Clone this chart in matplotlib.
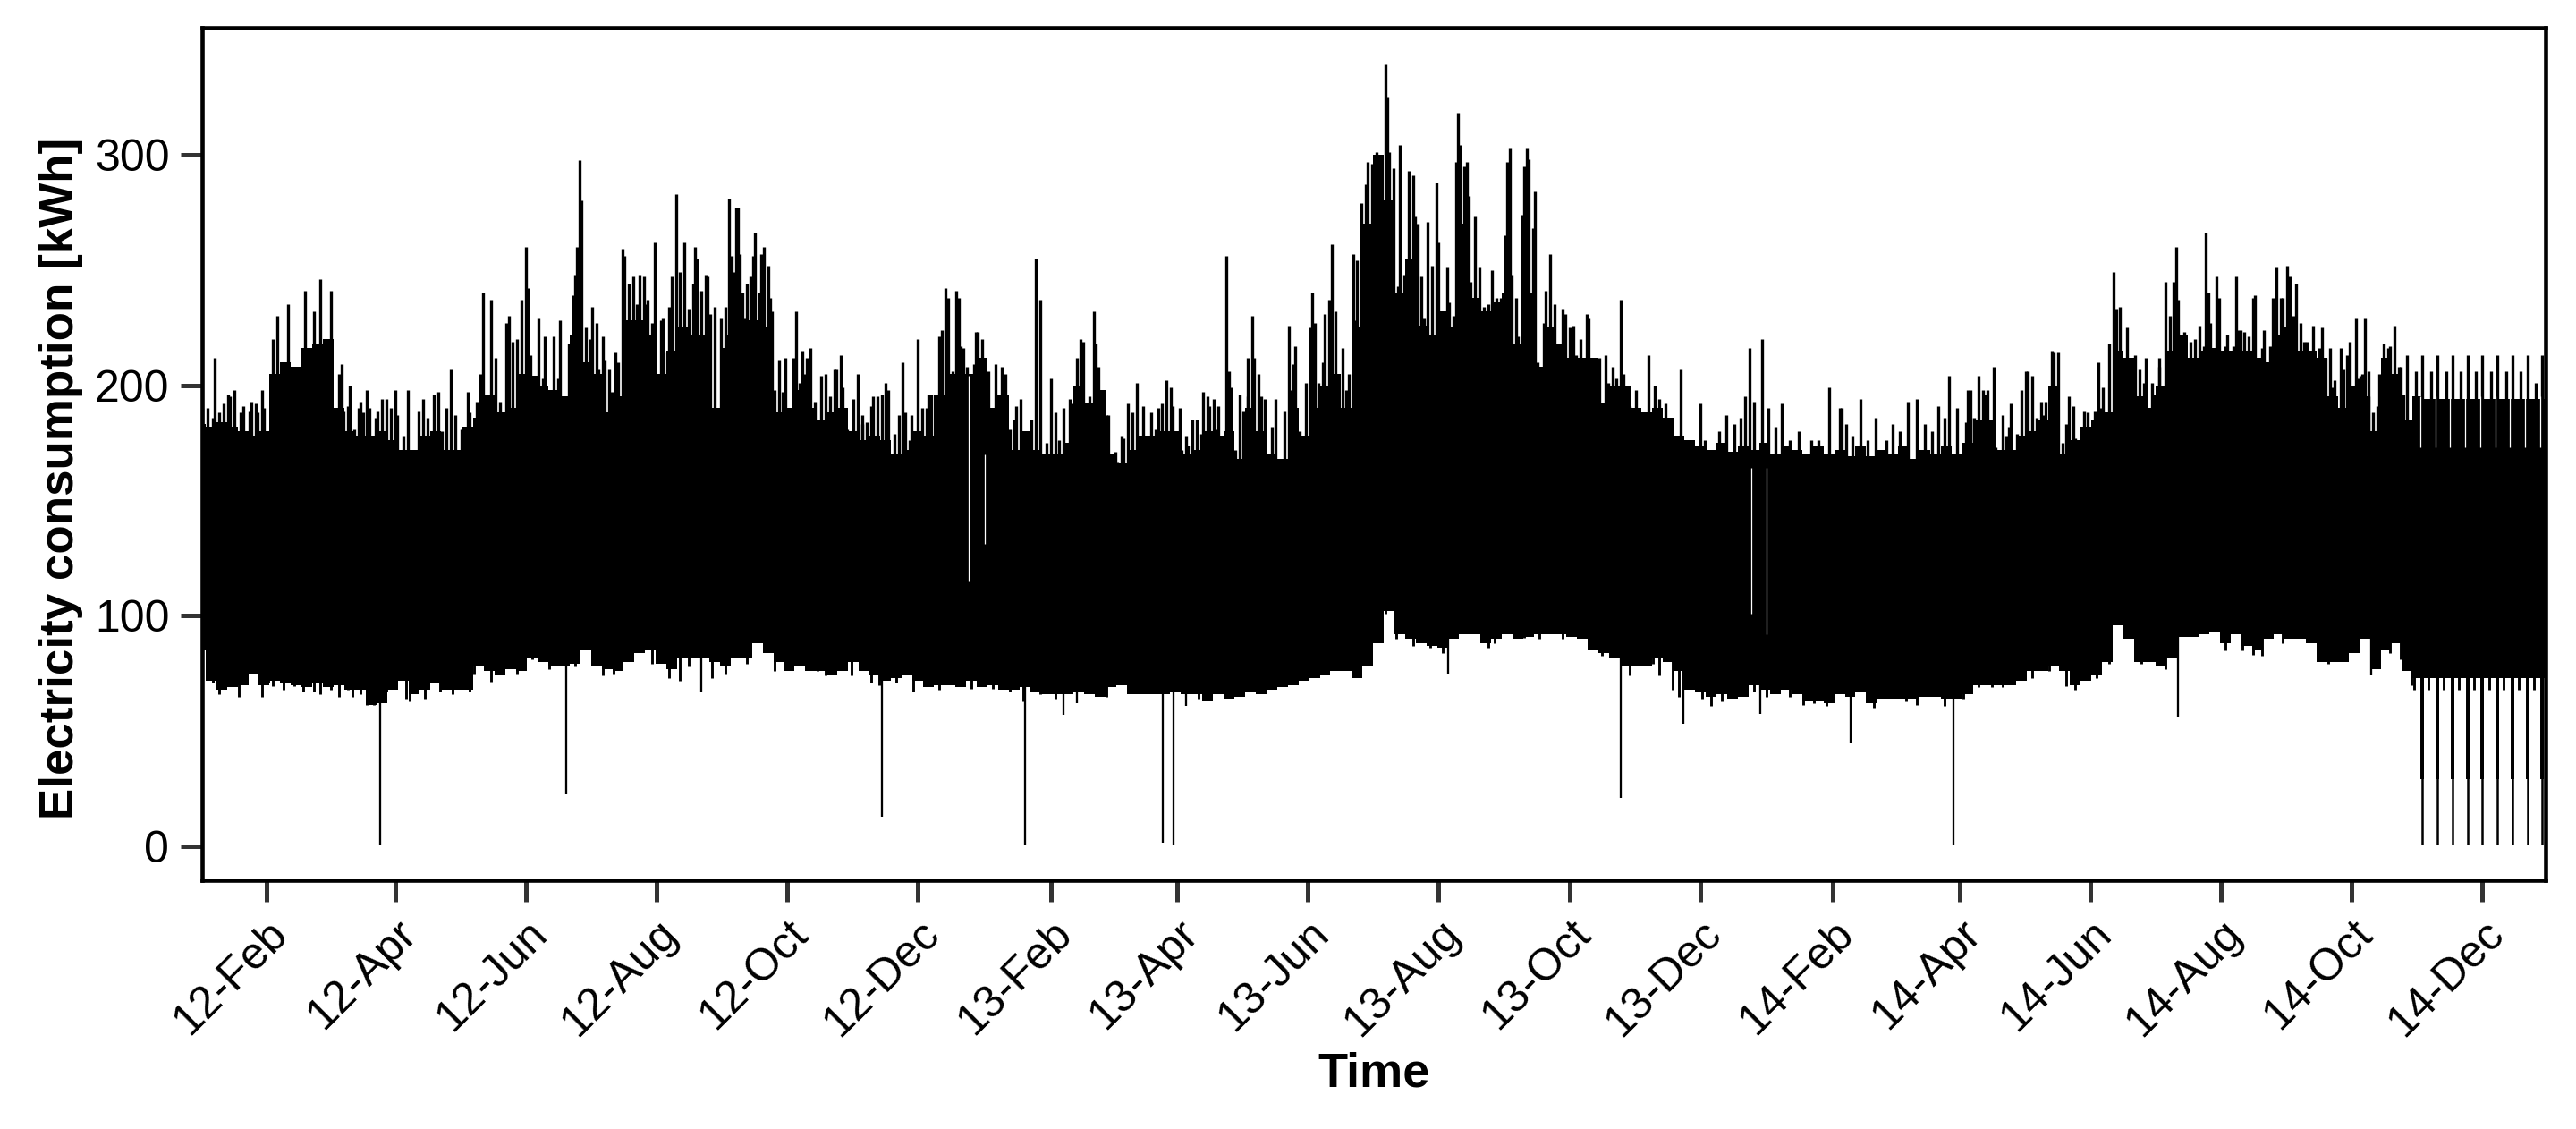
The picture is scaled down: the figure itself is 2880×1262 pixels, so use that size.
#!/usr/bin/env python3
import matplotlib
matplotlib.use("Agg")
import matplotlib.dates as mdates
import matplotlib.pyplot as plt
import numpy as np

start_day = np.datetime64("2012-01-01")
last_day = np.datetime64("2014-12-30T12")
first_shown = np.datetime64("2012-01-02")

# envelope of the black band, one reading every 5 days
top_2012 = [183, 182, 184, 182, 180, 178, 180, 205, 210, 208, 216, 218, 220, 190, 180, 178, 178, 180, 176,
            172, 172, 178, 180, 172, 172, 182, 186, 196, 188, 190, 205, 204, 200, 198, 195, 222, 210, 205,
            188, 195, 228, 228, 222, 205, 215, 225, 222, 222, 190, 216, 224, 228, 228, 225, 188]
top_2013a = [190, 198, 190, 185, 188, 190, 180, 176, 178, 176, 170, 172, 180, 178, 196, 205, 205, 205, 212,
             190, 196, 172, 180, 172, 170, 170, 175, 200, 192, 198, 170, 166, 172, 178, 178, 180, 180, 170,
             172, 180, 178, 180, 168, 190, 180, 170, 168, 190, 178, 190, 200, 205, 190, 225, 270]
top_2013b = [300, 280, 240, 255, 226, 222, 232, 225, 270, 238, 232, 236, 240, 218, 240, 208, 225, 218, 212,
             212, 212, 192, 200, 200, 190, 188, 190, 186, 178, 176, 174, 172, 175, 171, 174, 172, 175, 170,
             174, 172, 170, 174, 170, 172, 169, 174, 169, 172, 170, 174, 168, 172, 170, 174, 170]
top_2014 = [175, 185, 185, 172, 172, 178, 180, 185, 200, 170, 176, 182, 185, 188, 215, 212, 195, 190, 200,
            215, 222, 212, 215, 216, 215, 215, 215, 212, 210, 222, 225, 215, 215, 212, 195, 190, 200, 195,
            180, 212, 205, 185, 195, 194, 194, 194, 194, 194, 194, 194, 194, 194, 194, 194, 194]

low_2012 = [85, 72, 68, 69, 70, 75, 70, 72, 71, 70, 69, 71, 69, 70, 68, 68, 61.5, 62, 68, 72, 66, 68, 71, 68,
            68, 68, 78, 76, 74, 77, 76, 82, 80, 78, 78, 79, 85, 78, 77, 76, 80, 84, 85, 79, 77, 82, 82, 82,
            80, 78, 82, 82, 88, 84, 80]
low_2013a = [76, 78, 76, 76, 74, 76, 80, 76, 74, 72, 73, 74, 72, 69, 70, 70, 69, 72, 69, 70, 68, 68, 69, 67,
             66, 66, 66, 67, 66, 65, 69, 70, 66, 66, 66, 66, 67, 66, 66, 63, 66, 64, 65, 67, 66, 68, 69, 70,
             72, 73, 74, 76, 76, 73, 78]
low_2013b = [88, 102, 92, 90, 88, 87, 86, 90, 92, 92, 88, 90, 92, 90, 91, 92, 92, 92, 91, 90, 85, 84, 82, 78,
             78, 78, 82, 80, 76, 68, 67, 65, 66, 64, 65, 70, 68, 66, 68, 66, 63, 63, 62, 66, 65, 67, 62, 64,
             64, 64, 64, 65, 65, 64, 64]
low_2014 = [66, 70, 70, 70, 70, 72, 76, 76, 78, 76, 70, 72, 74, 80, 96, 90, 80, 80, 78, 82, 91, 91, 92, 93,
            88, 92, 87, 85, 90, 92, 90, 90, 88, 80, 80, 80, 84, 90, 77, 85, 88, 76, 73, 73, 73, 73, 73, 73,
            73, 73, 73, 73, 73, 73, 73]

# thin peaks above the band (day, kWh)
peaks_2012 = [(7, 212), (13, 196), (16, 198), (24, 193), (26, 192), (29, 198), (34, 220), (36, 230), (41, 235),
              (49, 241), (53, 232), (56, 246), (61, 241), (66, 209), (70, 200), (75, 193), (78, 198), (85, 194),
              (87, 194), (91, 198), (97, 198), (104, 194), (109, 196), (111, 197), (117, 207), (125, 197),
              (132, 240), (136, 237), (138, 212), (143, 227), (144, 230), (146, 219), (148, 220), (150, 237),
              (152, 260), (153, 242), (158, 229), (161, 221), (165, 221), (168, 228), (174, 239), (175, 248),
              (176, 260), (177, 297.5), (178, 280), (183, 234), (185, 227), (188, 221), (189, 211), (191, 207),
              (194, 214), (197, 259), (198, 256), (202, 247), (205, 248), (207, 247), (209, 237), (212, 262),
              (215, 228), (216, 229), (219, 234), (222, 283), (224, 249), (226, 262), (231, 260), (232, 255),
              (234, 241), (236, 248), (237, 247), (240, 234), (245, 234), (247, 281), (248, 256), (250, 277),
              (251, 277), (252, 257), (253, 240), (255, 244), (258, 256), (259, 266), (262, 257), (263, 260),
              (265, 252), (266, 238), (270, 211), (273, 212)]
peaks_2013a = [(278, 232), (281, 215), (283, 212), (285, 216), (287, 193), (290, 204), (292, 205), (296, 207),
               (297, 207), (299, 213), (300, 199), (305, 194), (307, 205), (309, 187), (311, 184), (313, 191),
               (314, 195), (316, 195), (320, 201), (321, 198), (328, 210), (329, 188), (332, 187), (335, 220),
               (337, 190), (339, 190), (341, 196), (348, 242), (349, 238), (353, 241), (354, 238), (356, 216),
               (358, 208), (362, 223), (365, 220), (371, 209), (374, 208), (376, 205), (380, 185), (383, 194),
               (390, 255), (392, 237), (397, 203), (399, 188), (406, 194), (409, 212), (411, 220), (412, 219),
               (417, 232), (418, 218), (419, 208), (424, 187), (427, 171), (430, 178), (433, 192), (437, 201),
               (440, 191), (444, 188), (447, 190), (449, 192), (451, 202), (453, 199), (454, 191), (457, 190),
               (460, 178), (463, 185), (465, 185), (468, 197), (470, 195), (473, 194), (475, 191), (479, 256),
               (480, 206), (481, 199), (485, 196), (489, 212), (491, 230), (492, 212), (494, 205), (497, 194),
               (502, 194), (508, 226), (510, 209), (511, 217), (518, 225), (519, 240), (520, 227), (522, 201),
               (525, 231), (527, 237), (528, 261), (530, 232), (533, 216), (535, 198), (538, 257), (539, 228),
               (542, 279), (544, 287), (545, 297), (547, 296), (549, 301)]
peaks_2013b = [(553, 339), (554, 325), (555, 301), (557, 294), (559, 243), (560, 304), (564, 293), (566, 291),
               (567, 273), (568, 270), (570, 247), (573, 271), (575, 252), (577, 288), (578, 262), (582, 251),
               (583, 236), (586, 297), (587, 318), (588, 304), (590, 295), (591, 297), (592, 282), (595, 273),
               (597, 251), (603, 250), (605, 238), (609, 265), (610, 297), (611, 303), (612, 248), (614, 238),
               (617, 274), (618, 295), (619, 303), (620, 298), (622, 268), (623, 284), (628, 241), (630, 257),
               (632, 235), (636, 233), (637, 231), (639, 225), (641, 226), (644, 220), (647, 231), (648, 229),
               (653, 212), (656, 213), (659, 208), (663, 237), (664, 205), (666, 199), (670, 198), (676, 213),
               (679, 200), (681, 194), (684, 192), (691, 207), (700, 192), (702, 176), (705, 172), (709, 180),
               (712, 187), (716, 183), (719, 186), (721, 195), (723, 216), (725, 193), (729, 220), (732, 190),
               (735, 182), (738, 192), (742, 176), (746, 180), (752, 176), (755, 176), (760, 199), (765, 190),
               (766, 190), (768, 183), (771, 178), (775, 194), (778, 176), (782, 186), (787, 176), (790, 183),
               (793, 180), (797, 193), (801, 194), (805, 183), (808, 180), (811, 191), (814, 186), (816, 204),
               (820, 190)]
peaks_2014 = [(824, 184), (825, 198), (826, 198), (830, 204), (832, 198), (833, 196), (834, 198), (837, 208),
              (841, 187), (845, 192), (850, 198), (852, 206), (853, 206), (855, 204), (859, 193), (861, 193),
              (864, 215), (865, 214), (867, 214), (872, 195), (874, 191), (879, 189), (881, 188), (884, 189),
              (886, 210), (888, 199), (893, 249), (894, 233), (896, 234), (899, 225), (901, 212), (903, 213),
              (905, 207), (908, 212), (911, 201), (914, 212), (917, 245), (921, 245), (922, 260), (923, 237),
              (926, 223), (929, 219), (933, 226), (936, 266), (937, 240), (938, 227), (941, 247), (942, 238),
              (945, 217), (946, 222), (950, 247), (951, 224), (952, 224), (954, 223), (958, 238), (959, 239),
              (962, 216), (963, 224), (966, 217), (969, 251), (972, 238), (974, 252), (975, 247), (978, 244),
              (980, 227), (983, 219), (986, 226), (990, 225), (992, 212), (994, 216), (996, 202), (999, 216),
              (1000, 207), (1003, 219), (1006, 229), (1007, 203), (1010, 229), (1012, 206), (1014, 188),
              (1019, 218), (1021, 216), (1024, 226), (1027, 208)]
# lower shoulders between the peaks
shoulders_2012 = [(1, 190), (3.5, 190), (6, 186), (9, 188), (11, 192), (14, 195), (19, 188), (20, 191), (23, 189),
                  (27, 188), (30, 190), (65, 205), (67, 189), (69, 191), (72, 181), (74, 190), (76, 188), (79, 190),
                  (82, 186), (83, 189), (89, 190), (92, 187), (95, 178), (102, 189), (106, 186), (113, 180), (115, 190),
                  (119, 187), (122, 181), (126, 188), (129, 193), (131, 205), (134, 196), (140, 193), (154, 213),
                  (156, 203), (160, 203), (162, 198), (167, 203), (172, 218), (180, 225), (182, 220), (186, 207),
                  (192, 197), (195, 210), (200, 244), (204, 235), (208, 235), (211, 227), (218, 214), (220, 247),
                  (228, 233), (230, 244), (238, 231), (243, 229), (246, 222), (249, 249), (254, 229), (257, 247),
                  (261, 240), (267, 232), (268, 198), (272, 197)]
shoulders_2013a = [(277, 212), (280, 201), (282, 205), (288, 175), (294, 195), (302, 181), (309, 183), (318, 196),
                   (324, 179), (326, 187), (331, 176), (340, 196), (345, 221), (346, 224), (351, 206), (355, 217),
                   (361, 209), (363, 223), (368, 206), (372, 196), (378, 181), (381, 191), (387, 175), (388, 185),
                   (395, 175), (401, 176), (403, 190), (407, 192), (415, 195), (421, 195), (423, 187), (428, 167),
                   (431, 177), (435, 188), (442, 178), (446, 181), (458, 172), (461, 174), (467, 179), (471, 191),
                   (474, 181), (483, 172), (487, 189), (489, 195), (495, 195), (500, 182), (506, 189), (509, 198),
                   (513, 180), (516, 201), (523, 197), (524, 210), (531, 202), (536, 205), (540, 254)]
shoulders_2013b = [(562, 248), (571, 229), (580, 232), (585, 230), (593, 245), (599, 234), (601, 235), (607, 238),
                   (615, 221), (624, 210), (627, 227), (633, 214), (634, 217), (642, 213), (651, 196), (657, 201),
                   (661, 203), (667, 191)]
shoulders_2014 = [(823, 174), (826, 186), (828, 186), (838, 173), (843, 178), (844, 182), (848, 179), (857, 186),
                  (860, 187), (869, 175), (871, 183), (875, 177), (878, 182), (883, 182), (887, 190), (890, 185),
                  (891, 218), (900, 209), (903, 193), (907, 201), (912, 196), (914, 208), (919, 230), (928, 204),
                  (931, 220), (935, 217), (939, 216), (943, 215), (949, 217), (956, 221), (961, 207), (967, 238),
                  (971, 238), (977, 230), (982, 219), (988, 203), (989, 216), (995, 199), (1002, 213), (1008, 204),
                  (1009, 205), (1012, 195), (1016, 191), (1017, 205), (1022, 217), (1026, 208), (1028, 196)]
# the regular tops of the last weeks
week_peak_days = [1030, 1037, 1044, 1051, 1058, 1065, 1072, 1079, 1086, 1093]
week_peak_vals = [213, 213, 213, 213, 213, 213, 213, 213, 213, 213]
week_side_days = [1034, 1041, 1048, 1055, 1062, 1069, 1076, 1083, 1090]
week_side_vals = [206, 206, 206, 206, 206, 206, 206, 206, 201]

# thin drops below the band (day, kWh)
drops = [(84, 0.6), (171, 23), (234, 67), (318, 13), (385, 0.6), (403, 57), (409, 62), (449.4, 1.4), (454.3, 0.6),
         (460, 61), (582.4, 75), (663, 21), (692, 53), (728, 57.5), (770, 45), (818, 0.6), (923, 56), (1013, 74)]

# short teeth on the lower edge of the band (day, kWh)
teeth_2012 = [(6, 71), (9, 66), (14, 69.5), (18, 65), (20, 72), (29, 65), (32, 71), (34, 69.5), (39, 68), (44, 69.5),
              (48, 67), (53, 67), (56, 66), (61, 68), (65, 65), (69, 68), (71, 65), (75, 66), (78, 61.5), (81, 61.5),
              (87, 67), (91, 69.5), (96, 64), (98, 63), (105, 64), (112, 67), (118, 66), (126, 67), (128, 75),
              (136, 71.5), (141, 76), (148, 75), (155, 81), (163, 77), (175, 78), (188, 74), (193, 75), (200, 82),
              (211, 79), (219, 73), (224, 72), (228, 78), (239, 73), (245, 75), (255, 79), (268, 76)]
teeth_2013a = [(279, 79), (288, 76), (292, 74), (298, 80), (304, 74), (313, 71), (317, 70), (325, 71), (333, 67),
               (340, 69.5), (345, 68), (360, 68.5), (370, 68.5), (378, 67), (384, 63), (392, 66), (399, 64), (423, 65),
               (435, 67), (443, 67), (466, 64), (470, 65), (481, 67), (487, 69.5), (492, 73), (502, 74), (524, 75),
               (538, 75)]
teeth_2013b = [(553, 101), (558, 90), (566, 87), (574, 86), (580, 84), (601, 86), (604, 88), (618, 90.5), (625, 90),
               (636, 90), (642, 93), (648, 90), (654, 82.5), (660, 82), (667, 74), (678, 79), (681, 74), (687, 68),
               (690, 65), (701, 64), (705, 61), (710, 63), (725, 67), (731, 65), (742, 65), (748, 61.5), (753, 62),
               (759, 61), (781, 60), (796, 63), (801, 61.5), (814, 61)]
teeth_2014 = [(823, 64), (830, 69), (836, 69), (841, 69), (848, 73), (855, 73), (863, 76), (871, 69.5), (875, 68),
              (885, 73), (891, 79), (903, 80.5), (906, 79), (912, 81), (917, 77), (945, 85), (953, 85), (958, 83),
              (962, 82.5), (972, 88), (993, 79), (999, 81), (1022, 84), (1027, 81), (1032, 70), (1033, 68), (1040, 68),
              (1047, 68), (1054, 68), (1061, 68), (1068, 68), (1075, 68), (1082, 68), (1089, 68)]

# weekly shutdowns at the end of 2014
shutdown_days = [1037, 1044, 1051, 1058, 1065, 1072, 1079, 1086, 1093]
shutdown_floor = [29, 29, 29, 29, 29, 29, 29, 29, 29]
shutdown_zero = [1, 1, 1, 1, 1, 1, 1, 1, 1]

# pale slits inside the band
slit_days = [358.7, 366, 724, 731, 1036, 1043, 1050, 1057, 1064, 1071, 1078, 1085, 1092]
slit_low = [115, 131, 101, 92, 173, 173, 173, 173, 173, 173, 173, 173, 173]
slit_high = [204, 170, 164, 164, 195, 195, 195, 195, 195, 195, 195, 195, 195]

tick_months = [2, 4, 6, 8, 10, 12]
y_ticks = [0, 100, 200, 300]


def to_dates(days):
    # days may be fractional, so go through hours
    return start_day + np.round(np.asarray(days, dtype=float) * 24).astype("timedelta64[h]")


plt.rcParams["font.family"] = ["Liberation Sans", "DejaVu Sans"]

fig = plt.figure(figsize=(9.6, 1262 / 300), dpi=300)
ax = fig.add_axes([226 / 2880, 1 - 984 / 1262, (2846 - 226) / 2880, (984 - 31) / 1262])

top_vals = top_2012 + top_2013a + top_2013b + top_2014
low_vals = low_2012 + low_2013a + low_2013b + low_2014
band_days = np.arange(len(top_vals)) * 5
ax.fill_between(to_dates(band_days), low_vals, top_vals, step="mid", color="black", lw=0)

peaks = (peaks_2012 + peaks_2013a + peaks_2013b + peaks_2014
         + shoulders_2012 + shoulders_2013a + shoulders_2013b + shoulders_2014)
peak_days = [p[0] for p in peaks] + week_peak_days + week_side_days
peak_vals = [p[1] for p in peaks] + week_peak_vals + week_side_vals
ax.vlines(to_dates(peak_days), 120, peak_vals, color="black", lw=0.8)

teeth = teeth_2012 + teeth_2013a + teeth_2013b + teeth_2014
ax.vlines(to_dates([t[0] for t in teeth]), [t[1] for t in teeth], 120, color="black", lw=0.7)
ax.vlines(to_dates([d[0] for d in drops]), [d[1] for d in drops], 120, color="black", lw=0.55)

ax.vlines(to_dates(shutdown_days), shutdown_floor, 120, color="black", lw=0.95)
ax.vlines(to_dates(shutdown_days), shutdown_zero, 120, color="black", lw=0.6)

ax.vlines(to_dates(slit_days), slit_low, slit_high, color="white", lw=0.3)

ax.set_xlim(first_shown, last_day)
ax.set_ylim(-14.7, 355)
ax.set_yticks(y_ticks)
ax.xaxis.set_major_locator(mdates.MonthLocator(bymonth=tick_months))
ax.xaxis.set_major_formatter(mdates.DateFormatter("%y-%b"))

ax.tick_params(axis="both", length=5.8, width=1.2, color="#333333", labelsize=12, pad=3)
plt.setp(ax.get_xticklabels(), rotation=45, ha="right", rotation_mode="anchor")
for s in ax.spines.values():
    s.set_linewidth(1.1)

ax.set_xlabel("Time", fontsize=13, fontweight="bold", labelpad=2)
ax.set_ylabel("Electricity consumption [kWh]", fontsize=12.7, fontweight="bold", labelpad=3, y=0.471)

fig.savefig("out.png", dpi=300)
